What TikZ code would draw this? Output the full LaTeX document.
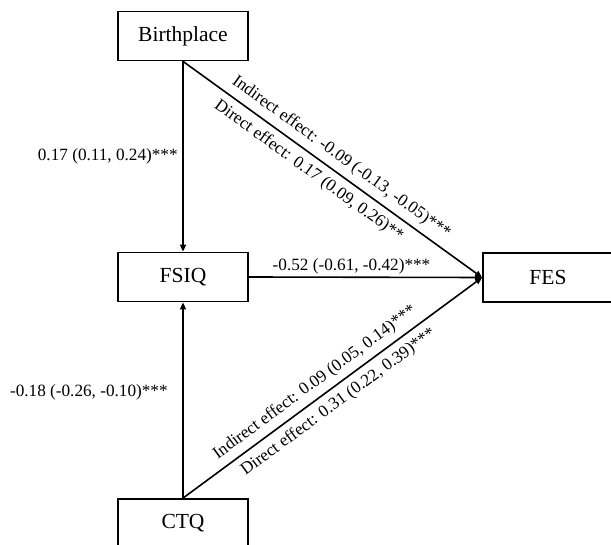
\documentclass[tikz,border=0pt]{standalone}
\usepackage{fontspec}
\setmainfont{Liberation Serif}
\usetikzlibrary{arrows.meta}
\begin{document}
\begin{tikzpicture}[x=1pt,y=-1pt,
  var/.style={draw, line width=1.8pt, minimum width=130pt, minimum height=49pt, inner sep=0pt,
    font=\fontsize{21.5}{24}\selectfont},
  arr/.style={line width=1.6pt, -{Triangle[length=7pt,width=6pt]}},
  lab/.style={font=\fontsize{17.2}{20}\selectfont, inner sep=1.5pt},
  slab/.style={font=\fontsize{17.2}{20}\selectfont, inner sep=2.5pt, sloped}]
\useasboundingbox (0,0) rectangle (611,545);
\fill[white] (0,0) rectangle (611,545);
\node[var] (B) at (183,36) {Birthplace};
\node[var] (F) at (183,277) {FSIQ};
\node[var] (E) at (548,277.5) {FES};
\node[var] (C) at (183,523.5) {CTQ};
\draw[arr] (B.south) -- node[lab, pos=0.5, left=3pt] {0.17 (0.11, 0.24)***} (F.north);
\draw[arr] (C.north) -- node[lab, pos=0.54, left=13pt] {-0.18 (-0.26, -0.10)***} (F.south);
\draw[arr] (F.east) -- node[lab, pos=0.44, above=0.5pt] {-0.52 (-0.61, -0.42)***} (E.west);
\draw[arr] (B.south) -- node[slab, pos=0.50, above=3.5pt] {Indirect effect: -0.09 (-0.13, -0.05)***}
  node[slab, pos=0.45, below=4pt] {Direct effect: 0.17 (0.09, 0.26)**} (E.west);
\draw[arr] (C.north) -- node[slab, pos=0.47, above=3.5pt] {Indirect effect: 0.09 (0.05, 0.14)***}
  node[slab, pos=0.49, below=4pt] {Direct effect: 0.31 (0.22, 0.39)***} (E.west);
\end{tikzpicture}
\end{document}
